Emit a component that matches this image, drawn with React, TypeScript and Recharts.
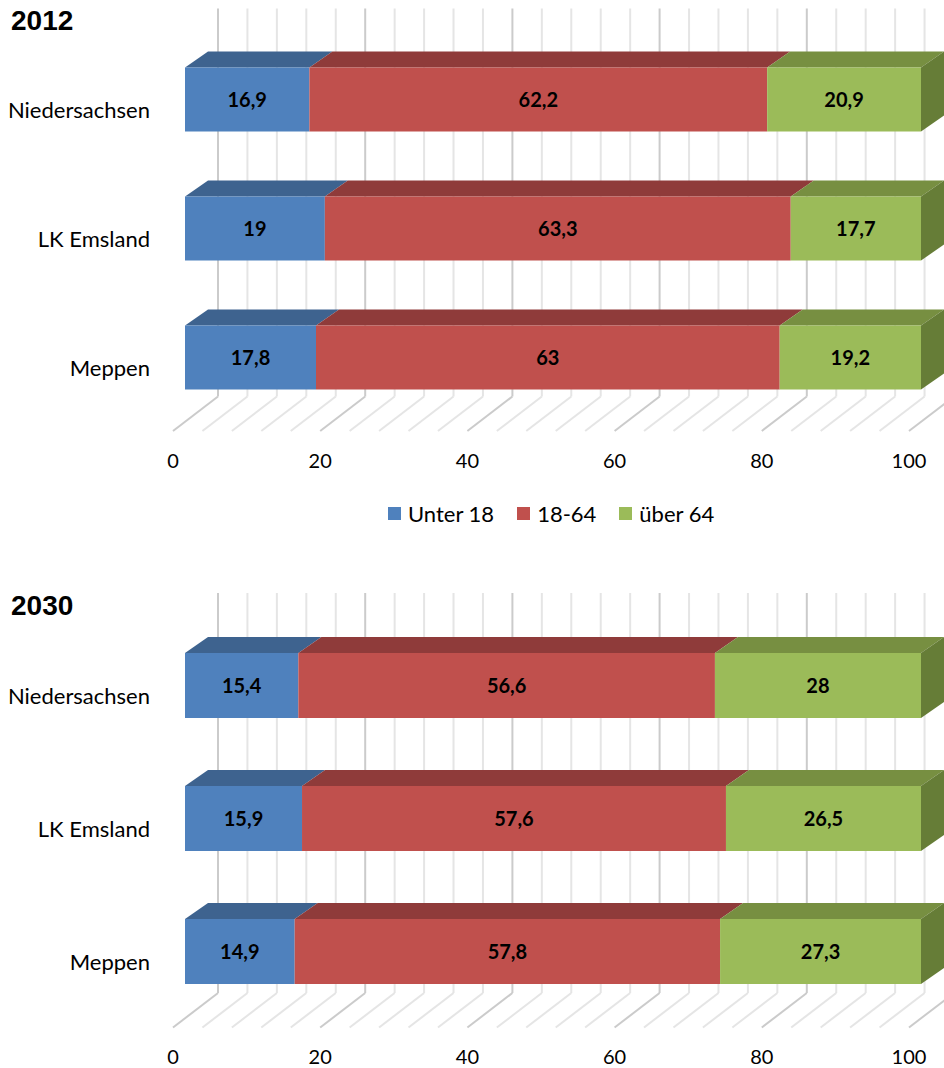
import React from 'react';
import { BarChart, Bar, XAxis, YAxis, CartesianGrid, LabelList, Legend } from 'recharts';

const regions = ['Niedersachsen', 'LK Emsland', 'Meppen'];

const under18_2012 = [16.9, 19, 17.8];
const working_2012 = [62.2, 63.3, 63];
const over64_2012 = [20.9, 17.7, 19.2];

const under18_2030 = [15.4, 15.9, 14.9];
const working_2030 = [56.6, 57.6, 57.8];
const over64_2030 = [28, 26.5, 27.3];

// gridlines every 4, labels only on the 20s
const gridTicks = [0, 4, 8, 12, 16, 20, 24, 28, 32, 36, 40, 44, 48, 52, 56, 60, 64, 68, 72, 76, 80, 84, 88, 92, 96, 100];
const labelTicks = [0, 20, 40, 60, 80, 100];

const seriesNames = ['Unter 18', '18-64', 'über 64'];

const series = [
  { key: 'u18', name: seriesNames[0], front: '#4f81bd', top: '#3e638f', side: '#36577e' },
  { key: 'mid', name: seriesNames[1], front: '#c0504d', top: '#8f3b3a', side: '#7d3432' },
  { key: 'o64', name: seriesNames[2], front: '#9bbb59', top: '#778f41', side: '#667d37' },
];

const FONT = 'Lato, "Open Sans", sans-serif';

// depth of the 3D boxes
const DX = 23;
const DY = 16;

function buildRows(u18: number[], mid: number[], o64: number[]) {
  return regions.map((name, i) => ({ name, u18: u18[i], mid: mid[i], o64: o64[i] }));
}

function boxShape(front: string, top: string, side: string, withSide: boolean) {
  return (props: any) => {
    const { x, y, width, height } = props;
    if (!width || width <= 0) return <g />;
    return (
      <g>
        <polygon
          points={`${x},${y} ${x + DX},${y - DY} ${x + width + DX},${y - DY} ${x + width},${y}`}
          fill={top}
        />
        <rect x={x} y={y} width={width} height={height} fill={front} />
        {withSide && (
          <polygon
            points={`${x + width},${y} ${x + width + DX},${y - DY} ${x + width + DX},${y + height - DY} ${x + width},${y + height}`}
            fill={side}
          />
        )}
      </g>
    );
  };
}

// back wall lines plus the slanted floor lines
function wallLine(props: any) {
  const { x1, y1, y2, x, width, index } = props;
  const v = Math.round(((x1 - x) / width) * 100);
  const major = labelTicks.includes(v);
  const stroke = major ? '#cbcbcb' : '#e5e5e5';
  const bx = x1 + 33;
  const wallTop = y1 - 26;
  const floorBack = y2 - 25;
  const floorFront = floorBack + 34.5;
  return (
    <g key={`wall-${index}`}>
      <line x1={bx} y1={wallTop} x2={bx} y2={floorBack} stroke={stroke} strokeWidth={2} />
      <line x1={bx} y1={floorBack} x2={x1 - 12} y2={floorFront} stroke={stroke} strokeWidth={2} />
    </g>
  );
}

function XTick(props: any) {
  const { x, y, payload } = props;
  if (!labelTicks.includes(payload.value)) return <g />;
  return (
    <text x={x - 12} y={y + 38} textAnchor="middle" dominantBaseline="central" fontFamily={FONT} fontSize={20} fill="#000">
      {payload.value}
    </text>
  );
}

function YTick(props: any) {
  const { x, y, payload } = props;
  return (
    <text x={x} y={y + 10} textAnchor="end" dominantBaseline="central" fontFamily={FONT} fontSize={22} fill="#000">
      {payload.value}
    </text>
  );
}

const fmt = (v: any) => String(v).replace('.', ',');

function LegendBox() {
  return (
    <div style={{ display: 'flex', justifyContent: 'flex-start', paddingLeft: 388, fontFamily: FONT, fontSize: 22, color: '#000' }}>
      {series.map((s) => (
        <div key={s.key} style={{ display: 'flex', alignItems: 'center', marginRight: 23 }}>
          <span style={{ width: 13, height: 13, background: s.front, display: 'inline-block', marginRight: 7 }} />
          <span>{s.name}</span>
        </div>
      ))}
    </div>
  );
}

interface PanelProps {
  title: string;
  rows: any[];
  height: number;
  top: number;
  bottom: number;
  barSize: number;
  legend?: boolean;
}

function Panel({ title, rows, height, top, bottom, barSize, legend }: PanelProps) {
  return (
    <div style={{ position: 'relative', width: 944, height }}>
      <div
        style={{
          position: 'absolute',
          left: 11,
          top: 5,
          fontFamily: '"Liberation Sans", Arial, sans-serif',
          fontWeight: 700,
          fontSize: 28,
          zIndex: 2,
        }}
      >
        {title}
      </div>
      <BarChart
        width={944}
        height={height}
        data={rows}
        layout="vertical"
        margin={{ top, right: 23, bottom, left: 0 }}
      >
        <CartesianGrid horizontal={false} vertical={wallLine} />
        <XAxis
          type="number"
          domain={[0, 100]}
          ticks={gridTicks}
          interval={0}
          axisLine={false}
          tickLine={false}
          tickSize={0}
          tickMargin={0}
          height={50}
          tick={XTick}
        />
        <YAxis
          type="category"
          dataKey="name"
          width={185}
          axisLine={false}
          tickLine={false}
          tickSize={0}
          tickMargin={35}
          tick={YTick}
        />
        {series.map((s, i) => (
          <Bar
            key={s.key}
            dataKey={s.key}
            name={s.name}
            stackId="a"
            barSize={barSize}
            fill={s.front}
            isAnimationActive={false}
            shape={boxShape(s.front, s.top, s.side, i === series.length - 1)}
          >
            <LabelList
              dataKey={s.key}
              position="center"
              formatter={fmt}
              fill="#000"
              fontFamily={FONT}
              fontSize={20}
              fontWeight={700}
            />
          </Bar>
        ))}
        {legend && (
          <Legend
            layout="horizontal"
            verticalAlign="middle"
            align="center"
            wrapperStyle={{ top: 500, left: 0, width: 944 }}
            content={LegendBox}
          />
        )}
      </BarChart>
    </div>
  );
}

export default function App() {
  return (
    <div style={{ position: 'absolute', left: 0, top: 0, width: 944, height: 1068, background: '#fff' }}>
      <Panel
        title="2012"
        rows={buildRows(under18_2012, working_2012, over64_2012)}
        height={540}
        top={34.5}
        bottom={68.5}
        barSize={64}
        legend
      />
      <div style={{ position: 'absolute', left: 0, top: 585 }}>
        <Panel
          title="2030"
          rows={buildRows(under18_2030, working_2030, over64_2030)}
          height={483}
          top={34}
          bottom={0}
          barSize={65}
        />
      </div>
    </div>
  );
}
